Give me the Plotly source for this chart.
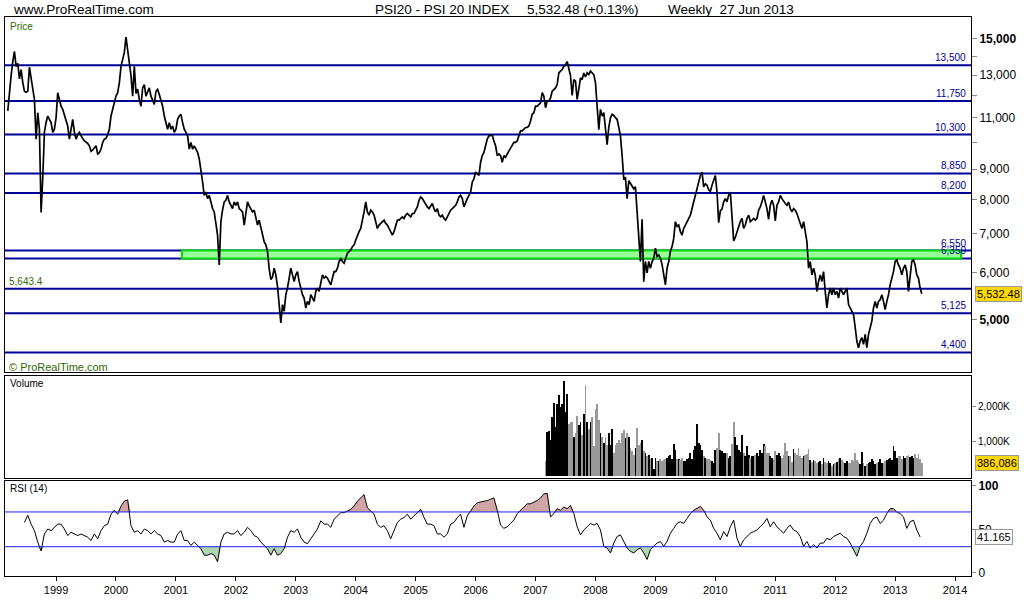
import numpy as np
import pandas as pd
import plotly.graph_objects as go

# ---------------- DATA ----------------
# Price samples, one every 1/36 year starting 1998-03-13
price_1998_2001 = [
    11300, 12285, 12970, 13700, 14250, 13450, 13600, 12800, 13280, 12620,
    12200, 12150, 12200, 13400, 12900, 12300, 11815, 10120, 11220, 10520,
    7600, 8700, 10400, 10800, 11075, 10935, 10795, 10390, 10520, 11000,
    12130, 11815, 11510, 11365, 11150, 10935, 10650, 10120, 10520, 10935,
    10400, 10120, 10300, 10390, 10250, 10120, 10050, 10000, 9950, 9860,
    9650, 9700, 9800, 9860, 9550, 9600, 9735, 9990, 10120, 10150,
    10300, 10520, 11075, 11365, 11660, 11970, 12130, 12610, 13450, 13800,
    14200, 15070, 14400, 13620, 12970, 11970, 13450, 12100, 12300, 11815,
    11510, 12360, 12525, 11970, 12200, 12360, 11970, 11815, 11590, 12200,
    12285, 12050, 11815, 11510, 11075, 10795, 10520, 10795, 10520, 10650,
    10390, 10520, 10935, 11075, 11150, 10795, 10520, 10390, 10250, 9735,
    9990, 9735, 9860, 9735, 9610, 9365, 9010, 8560, 8125, 8230,
    8022, 8125, 7920, 7716, 7616, 7330, 6958, 6190, 7330, 7668,
    7920, 7970, 8125, 7920, 7815, 7716, 7920, 7815, 7920, 7716,
    7668, 7616, 7235,
]
price_2001_2005 = [
    7600, 7920, 7800, 7716, 7616, 7668, 7400, 7235, 7375, 7140,
    6958, 6780, 6695, 6525, 6100, 5850, 5900, 6113, 5955, 5700,
    5302, 4938, 5302, 5168, 5512, 5657, 5880, 6113, 5955, 5805,
    5955, 6030, 5805, 5657, 5512, 5441, 5234, 5370, 5302, 5512,
    5441, 5370, 5584, 5657, 5584, 5805, 5955, 5880, 5918, 5880,
    5805, 5730, 5880, 6030, 6030, 6113, 6275, 6355, 6275, 6233,
    6355, 6480, 6525, 6565, 6650, 6695, 6825, 6958, 7050, 7140,
    7330, 7616, 7920, 7616, 7520, 7668, 7616, 7520, 7330, 7140,
    7235, 7280, 7330, 7375, 7280, 7235, 7140, 7050, 6958, 7050,
    7235, 7375, 7375, 7423, 7470, 7423, 7520, 7568, 7520, 7470,
    7568, 7568, 7668, 7766, 7970, 8073, 8022, 7920, 7868, 7766,
    7716, 7815, 7868, 7716, 7616, 7716, 7520, 7470, 7520, 7423,
    7375, 7470, 7568, 7668, 7716, 7766, 7815, 7920, 8073, 8125,
    8022, 7766, 7920, 8022, 8125, 8230, 8560, 8668, 8895, 8838,
    8780, 9245, 9490, 9610, 9860, 10120, 10250,
]
price_2005_2009 = [
    10250, 10280, 10050, 9860, 9490, 9550, 9490, 9245, 9490, 9425,
    9550, 9670, 9800, 9925, 9990, 9990, 10050, 10250, 10455, 10455,
    10520, 10590, 10590, 10650, 10860, 11150, 11220, 11510, 11510, 11590,
    11660, 12130, 11970, 11440, 11740, 11740, 11890, 12200, 12285, 12360,
    12525, 13110, 13200, 13280, 13450, 13530, 13700, 13280, 12970, 12000,
    12770, 12690, 11815, 12300, 12855, 12770, 13100, 12900, 13110, 13020,
    13200, 13110, 13020, 12610, 11365, 10500, 11365, 11075, 11220, 10650,
    9900, 10600, 11000, 11150, 11100, 11005, 10935, 10600, 10250, 9490,
    8668, 8700, 8022, 8600, 8500, 8450, 8338, 8400, 7716, 7000,
    6275, 7400, 5800, 6275, 6000, 6275, 6113, 6275, 6355, 6608,
    6400, 6435, 6355, 6200, 5950, 5730, 6113, 6275, 6525, 6650,
    6869, 7330, 7200, 7235, 7050, 6958, 7140, 7235, 7330, 7423,
    7520, 7716, 7920, 8073, 8338, 8560, 8780, 8895, 8400, 8500,
    8450, 8300, 8250, 8450, 8600, 8780, 8230, 7300, 7650, 7700,
    7920, 8022, 7920, 8125, 8230, 7500, 6800,
]
price_2009_2013 = [
    6900, 7050, 7140, 7330, 7423, 7140, 7235, 7423, 7520, 7330,
    7375, 7423, 7375, 7423, 7668, 7766, 7920, 8125, 7920, 7716,
    7400, 7815, 7970, 7815, 7350, 7815, 7920, 8125, 8022, 7920,
    7868, 7815, 7920, 7716, 7616, 7716, 7668, 7568, 7423, 7235,
    7140, 7330, 7050, 6780, 6113, 6275, 5955, 6113, 5955, 5584,
    5805, 5955, 5805, 6030, 5584, 5234, 5512, 5657, 5512, 5657,
    5512, 5584, 5441, 5657, 5584, 5512, 5584, 5657, 5302, 5234,
    5168, 5100, 4850, 4600, 4480, 4600, 4659, 4540, 4720, 4481,
    4720, 4843, 4970, 5234, 5370, 5234, 5370, 5405, 5512, 5370,
    5200, 5370, 5512, 5730, 5880, 6030, 6275, 6310, 6190, 6113,
    5955, 6113, 6190, 6030, 5584, 5955, 6275, 6310, 6190, 5955,
    5880, 5657, 5532.48,
]
START_DATE = "1998-03-13"
STEP_DAYS = 365.25 / 36

# Weekly volume (thousands), from 2007 onwards, on the same time grid
volume_k = [
    435, 1269, 1296, 1037, 1685, 2102, 1407, 2056, 2333, 1963,
    2056, 2722, 1824, 2352, 1500, 1546, 1546, 1130, 1222, 1732,
    1454, 1546, 1176, 1778, 2611, 1546, 1361, 1546, 1685, 870,
    1917, 2074, 1593, 1222, 1130, 944, 1130, 898, 1241, 898,
    1361, 667, 898, 944, 1037, 944, 1222, 1333, 1083, 1241,
    1130, 806, 713, 620, 806, 1389, 898, 944, 1037, 713,
    667, 574, 620, 481, 528, 204, 528, 435, 435, 481,
    435, 463, 500, 528, 574, 620, 481, 926, 741, 500,
    481, 463, 528, 435, 435, 500, 528, 667, 481, 759,
    870, 1500, 944, 898, 759, 574, 528, 481, 500, 463,
    435, 370, 741, 806, 1241, 759, 713, 667, 667, 667,
    528, 574, 926, 1546, 1130, 898, 759, 685, 1176, 667,
    574, 870, 620, 528, 593, 574, 620, 667, 593, 759,
    667, 917, 852, 667, 667, 574, 528, 481, 713, 620,
    667, 574, 528, 620, 944, 713, 574, 574, 407, 778,
    667, 620, 806, 574, 528, 593, 620, 648, 778, 463,
    407, 463, 435, 389, 407, 435, 343, 528, 407, 389,
    435, 370, 296, 343, 389, 407, 500, 528, 463, 407,
    370, 435, 389, 370, 463, 435, 667, 463, 407, 343,
    685, 389, 296, 343, 389, 407, 500, 435, 343, 389,
    407, 481, 389, 370, 435, 463, 500, 528, 463, 852,
    713, 528, 593, 574, 500, 574, 528, 574, 620, 556,
    574, 528, 639, 528, 639, 481, 386.086,
]

# RSI(14), sampled every second grid step
rsi_1998_2006 = [
    57.9, 66.2, 56, 48.5, 35.3, 25.1, 44.7, 50.4, 48.5, 52.3,
    56, 56, 50.4, 42.8, 46.6, 44.7, 42.8, 44.7, 42.8, 40.9,
    37.2, 44.7, 39.1, 48.5, 54.2, 56, 67.4, 71.9, 67.4, 76.8,
    82.5, 84, 54.2, 46.6, 48.5, 44.7, 50.4, 48.5, 44.7, 48.5,
    44.7, 42.8, 35.3, 37.2, 35.3, 35.3, 44.7, 48.5, 37.2, 37.2,
    31.5, 35.3, 31.5, 27.7, 20.2, 20.2, 22.1, 20.2, 12.6, 35.3,
    44.7, 46.6, 44.7, 44.7, 48.5, 42.8, 46.6, 52.3, 48.5, 42.8,
    40.9, 35.3, 31.5, 27.7, 20.2, 27.7, 20.2, 22.1, 27.7, 40.9,
    48.5, 46.6, 50.4, 40.9, 35.3, 33.4, 39.1, 44.7, 50.4, 59.8,
    56, 56, 52.3, 61.7, 65.5, 69.2, 69.2, 71.1, 73, 76.8,
    82.5, 86.2, 90, 74.9, 71.1, 67.4, 56, 52.3, 54.2, 48.5,
    39.1, 48.5, 57.9, 61.7, 63.6, 67.4, 61.7, 65.5, 69.2, 73,
    63.6, 56, 56, 54.2, 44.7, 44.7, 40.9, 44.7, 56, 57.9,
    63.6, 67.4, 52.3, 65.5, 71.1, 76.8, 80.6,
]
rsi_2006_2013 = [
    81.3, 82.5, 83.2, 84.7, 86.2, 71.9, 54.9, 51.1, 53, 56.8,
    60.6, 68.1, 71.9, 75.7, 79.4, 79.4, 81.3, 83.2, 86.2, 90.8,
    91.5, 64.3, 68.1, 73.8, 71.9, 75.7, 73.8, 77.5, 68.1, 53,
    43.6, 49.2, 53, 56.8, 54.9, 56.8, 49.2, 30.4, 28.5, 22.8,
    34.2, 41.7, 43.6, 36, 28.5, 24.7, 22.8, 26.6, 28.5, 22.8,
    15.3, 26.6, 30.4, 34.2, 36, 30.4, 36, 45.5, 51.1, 56.8,
    58.7, 56.8, 62.5, 68.1, 71.9, 73.8, 76.4, 71.9, 64.3, 60.6,
    51.1, 45.5, 37.9, 47.4, 41.7, 53, 60.6, 39.8, 30.4, 37.9,
    41.7, 45.5, 47.4, 49.2, 53, 56.8, 62.5, 53, 58.7, 53,
    49.2, 45.5, 51.1, 54.9, 49.2, 47.4, 41.7, 30.4, 36, 28.5,
    32.3, 28.5, 34.2, 34.2, 39.8, 37.9, 41.7, 43.6, 45.5, 41.7,
    39.8, 34.2, 26.6, 19, 30.4, 36, 45.5, 56.8, 62.5, 64.3,
    56.8, 60.6, 68.1, 73.8, 73.8, 70, 68.1, 64.3, 51.1, 58.7,
    60.6, 49.2, 41.165,
]

# Horizontal support / resistance levels
levels = [13500, 11750, 10300, 8850, 8200, 6550, 6350, 5643.4, 5125, 4400]
level_labels = ["13,500", "11,750", "10,300", "8,850", "8,200", "6,550",
                "6,350", "", "5,125", "4,400"]
band_low, band_high = 6350, 6550
band_start, band_end = "2001-02-06", "2014-02-06"
years = list(range(1999, 2015))
price_ticks = [5000, 6000, 7000, 8000, 9000, 10000, 11000, 12000, 13000, 14000, 15000]
price_tick_text = ["<b>5,000</b>", "6,000", "7,000", "8,000", "9,000", "", "11,000",
                   "", "13,000", "", "<b>15,000</b>"]
last_close, last_volume_k, last_rsi = 5532.48, 386.086, 41.165

# ---------------- BUILD ----------------
price = price_1998_2001 + price_2001_2005 + price_2005_2009 + price_2009_2013
n = len(price)
dates = pd.Timestamp(START_DATE) + pd.to_timedelta(np.arange(n) * STEP_DAYS, unit="D")

rsi = np.array(rsi_1998_2006 + rsi_2006_2013)
rsi_dates = dates[10::2][:len(rsi)]

vol_start = n - len(volume_k)
vol_dates = dates[vol_start:]
vol_colors = []
for i in range(len(volume_k)):
    idx = vol_start + i
    vol_colors.append("#000000" if price[idx] >= price[idx - 1] else "#999999")

FONT = "Liberation Sans, Arial, sans-serif"
NAVY = "#000099"
GREEN_TXT = "#2f6a00"

fig = go.Figure()

# Price
fig.add_trace(go.Scatter(x=dates, y=price, mode="lines",
                         line=dict(color="black", width=1.7),
                         xaxis="x", yaxis="y", hoverinfo="skip"))
# Volume
fig.add_trace(go.Bar(x=vol_dates, y=volume_k, marker=dict(color=vol_colors, line=dict(width=0)),
                     width=5 * 86400000, xaxis="x2", yaxis="y2", hoverinfo="skip"))
# RSI fills
fig.add_trace(go.Scatter(x=rsi_dates, y=[70] * len(rsi), mode="lines",
                         line=dict(width=0, color="rgba(0,0,0,0)"),
                         xaxis="x3", yaxis="y3", hoverinfo="skip"))
fig.add_trace(go.Scatter(x=rsi_dates, y=np.maximum(rsi, 70), mode="lines",
                         line=dict(width=0, color="rgba(0,0,0,0)"),
                         fill="tonexty", fillcolor="rgba(180,105,105,0.6)",
                         xaxis="x3", yaxis="y3", hoverinfo="skip"))
fig.add_trace(go.Scatter(x=rsi_dates, y=[30] * len(rsi), mode="lines",
                         line=dict(width=0, color="rgba(0,0,0,0)"),
                         xaxis="x3", yaxis="y3", hoverinfo="skip"))
fig.add_trace(go.Scatter(x=rsi_dates, y=np.minimum(rsi, 30), mode="lines",
                         line=dict(width=0, color="rgba(0,0,0,0)"),
                         fill="tonexty", fillcolor="rgba(110,180,110,0.55)",
                         xaxis="x3", yaxis="y3", hoverinfo="skip"))
fig.add_trace(go.Scatter(x=rsi_dates, y=rsi, mode="lines", line=dict(color="black", width=1),
                         xaxis="x3", yaxis="y3", hoverinfo="skip"))

shapes = []
shapes.append(dict(type="rect", xref="x", yref="y", x0=band_start, x1=band_end,
                   y0=band_low, y1=band_high, fillcolor="#99ff99",
                   line=dict(color="#00dd00", width=2), layer="below"))
for lv in levels:
    shapes.append(dict(type="line", xref="paper", yref="y", x0=0, x1=1, y0=lv, y1=lv,
                       line=dict(color=NAVY, width=2), layer="below"))
for lv in (70, 30):
    shapes.append(dict(type="line", xref="paper", yref="y3", x0=0, x1=1, y0=lv, y1=lv,
                       line=dict(color="#1f1ff0", width=1), layer="above"))

ann = []
for lv, lab in zip(levels, level_labels):
    if lab:
        ann.append(dict(x=0.9965, xref="paper", y=np.log10(lv), yref="y", text=lab,
                        xanchor="right", yanchor="bottom", yshift=0, showarrow=False,
                        font=dict(family=FONT, size=10, color=NAVY)))
ann.append(dict(x=0.002, xref="paper", y=np.log10(5643.4), yref="y", text="5,643.4",
                xanchor="left", yanchor="bottom", showarrow=False,
                font=dict(family=FONT, size=10, color=GREEN_TXT)))
# panel titles
ann.append(dict(x=0.003, xref="paper", y=0.9825, yref="paper", text="Price", xanchor="left",
                yanchor="middle", showarrow=False, font=dict(family=FONT, size=10, color=GREEN_TXT)))
ann.append(dict(x=0.002, xref="paper", y=0.3745, yref="paper", text="© ProRealTime.com",
                xanchor="left", yanchor="middle", showarrow=False,
                font=dict(family=FONT, size=11, color=GREEN_TXT)))
ann.append(dict(x=0.003, xref="paper", y=0.3446, yref="paper", text="Volume", xanchor="left",
                yanchor="middle", showarrow=False, font=dict(family=FONT, size=10, color="black")))
ann.append(dict(x=0.003, xref="paper", y=0.1563, yref="paper", text="RSI (14)", xanchor="left",
                yanchor="middle", showarrow=False, font=dict(family=FONT, size=10, color="black")))
# header
HEAD_FONT = dict(family=FONT, size=13.5, color="black")
ann.append(dict(x=0.006, xref="paper", y=1.0142, yref="paper", text="www.ProRealTime.com",
                xanchor="left", yanchor="middle", showarrow=False, font=HEAD_FONT))
ann.append(dict(x=0.3806, xref="paper", y=1.0142, yref="paper", text="PSI20 - PSI 20 INDEX",
                xanchor="left", yanchor="middle", showarrow=False, font=HEAD_FONT))
ann.append(dict(x=0.5388, xref="paper", y=1.0142, yref="paper", text="5,532.48 (+0.13%)",
                xanchor="left", yanchor="middle", showarrow=False, font=HEAD_FONT))
ann.append(dict(x=0.6846, xref="paper", y=1.0142, yref="paper", text="Weekly  27 Jun 2013",
                xanchor="left", yanchor="middle", showarrow=False, font=HEAD_FONT))
# value boxes on the right
ann.append(dict(x=1.004, xref="paper", y=np.log10(last_close), yref="y",
                text=f"{last_close:,.2f}", xanchor="left", yanchor="middle", showarrow=False,
                bgcolor="#ffd800", bordercolor="#999999", borderwidth=1, borderpad=1,
                font=dict(family=FONT, size=11, color="black")))
ann.append(dict(x=1.004, xref="paper", y=last_volume_k, yref="y2",
                text=f"{last_volume_k * 1000:,.0f}", xanchor="left", yanchor="middle",
                showarrow=False, bgcolor="#ffd800", bordercolor="#999999", borderwidth=1,
                borderpad=1, font=dict(family=FONT, size=11, color="black")))
ann.append(dict(x=1.004, xref="paper", y=last_rsi, yref="y3",
                text=f"{last_rsi:.3f}", xanchor="left", yanchor="middle", showarrow=False,
                bgcolor="white", bordercolor="#999999", borderwidth=1, borderpad=1,
                font=dict(family=FONT, size=11, color="black")))

x_range = ["1998-02-24", "2014-04-08"]
axis_common = dict(showline=True, linecolor="black", linewidth=1, mirror=True,
                   showgrid=False, zeroline=False)
tick_dates = [f"{y}-01-01" for y in years]

fig.update_layout(
    width=1024, height=600,
    margin=dict(l=4, r=53, t=17, b=20),
    paper_bgcolor="white", plot_bgcolor="white",
    showlegend=False, hovermode=False, bargap=0,
    font=dict(family=FONT, size=11, color="black"),
    shapes=shapes, annotations=ann,
    xaxis=dict(domain=[0, 1], anchor="y", type="date", range=x_range, matches="x3",
               showticklabels=False, ticks="", **axis_common),
    xaxis2=dict(domain=[0, 1], anchor="y2", type="date", range=x_range, matches="x3",
                showticklabels=False, ticks="", **axis_common),
    xaxis3=dict(domain=[0, 1], anchor="y3", type="date", range=x_range,
                tickvals=tick_dates, ticktext=[str(y) for y in years],
                ticks="outside", ticklen=4, tickcolor="black",
                tickfont=dict(family=FONT, size=11), **axis_common),
    yaxis=dict(domain=[0.3641, 1.0], anchor="x", type="log", side="right",
               range=[np.log10(4068), np.log10(16305)],
               tickvals=price_ticks, ticktext=price_tick_text,
               ticks="outside", ticklen=5, tickcolor="#888888",
               tickfont=dict(family=FONT, size=12), **axis_common),
    yaxis2=dict(domain=[0.1758, 0.3570], anchor="x2", side="right", range=[-28, 2861],
                tickvals=[1000, 2000], ticktext=["1,000K", "2,000K"],
                ticks="outside", ticklen=4, tickcolor="#888888",
                tickfont=dict(family=FONT, size=10), **axis_common),
    yaxis3=dict(domain=[0.0, 0.1705], anchor="x3", side="right", range=[-3.71, 106.0],
                tickvals=[0, 50, 100], ticktext=["0", "50", "<b>100</b>"],
                ticks="outside", ticklen=4, tickcolor="#888888",
                tickfont=dict(family=FONT, size=12), **axis_common),
)

fig.write_html(
    "out.html",
    config={"displayModeBar": False, "responsive": False},
    post_script="document.body.style.margin='0';document.body.style.padding='0';"
                "document.body.style.overflow='hidden';",
)
